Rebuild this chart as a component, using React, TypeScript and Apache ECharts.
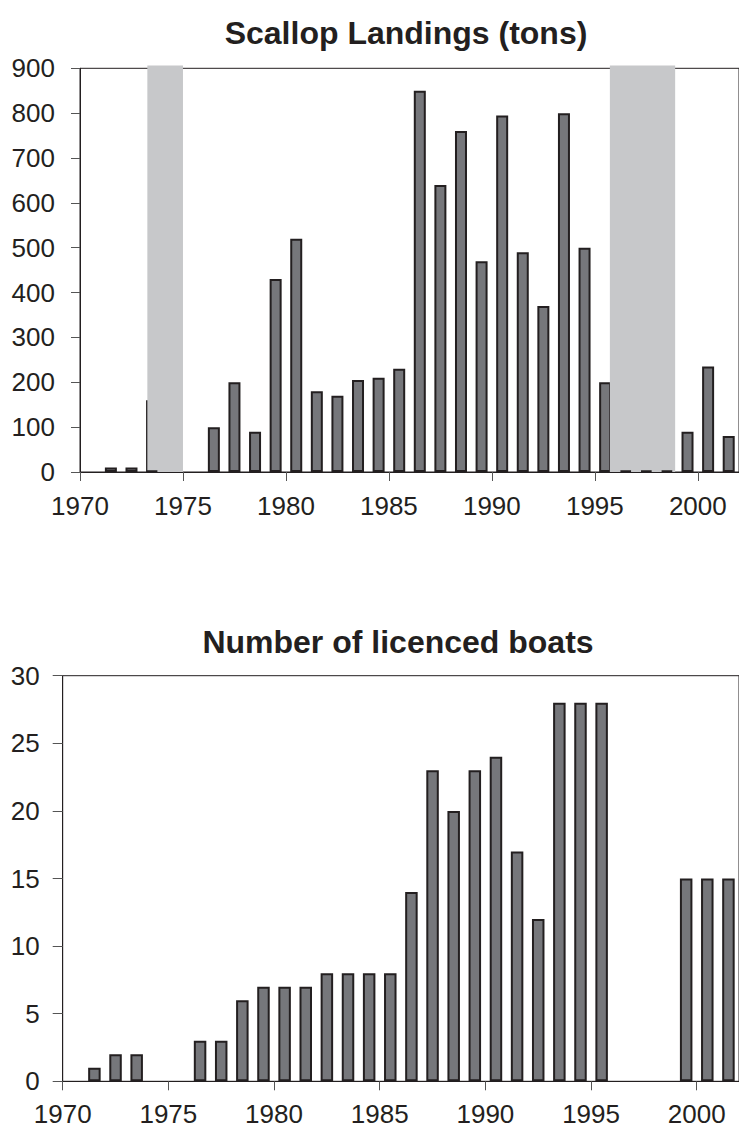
import React, { useEffect, useRef } from "react";
import * as echarts from "echarts";

// ---------- Data ----------
const landingYears = [1971, 1972, 1976, 1977, 1978, 1979, 1980, 1981, 1982, 1983, 1984, 1985, 1986, 1987, 1988, 1989, 1990, 1991, 1992, 1993, 1994, 1995, 1999, 2000, 2001];
const landingTons = [10, 10, 100, 200, 90, 430, 520, 180, 170, 205, 210, 230, 850, 640, 760, 470, 795, 490, 370, 800, 500, 200, 90, 235, 80];
const coveredYears = [1973];
const coveredTons = [160];
const smallYears = [1973, 1996, 1997, 1998];
const smallTons = [3, 3, 3, 3];
const closureStart = [1973.27, 1995.73];
const closureEnd = [1975, 1998.9];
const closureTop = 906;

const boatYears = [1971, 1972, 1973, 1976, 1977, 1978, 1979, 1980, 1981, 1982, 1983, 1984, 1985, 1986, 1987, 1988, 1989, 1990, 1991, 1992, 1993, 1994, 1995, 1999, 2000, 2001];
const boatCounts = [1, 2, 2, 3, 3, 6, 7, 7, 7, 8, 8, 8, 8, 14, 23, 20, 23, 24, 17, 12, 28, 28, 28, 15, 15, 15];

const titleTop = "Scallop Landings (tons)";
const titleBottom = "Number of licenced boats";

// ---------- Styles ----------
const FONT = "'Liberation Sans', Arial, Helvetica, sans-serif";
const INK = "#231f20";
const BAR_FILL = "#76777b";
const SHADE = "#c7c8ca";

const toPairs = (years: number[], vals: number[]) => years.map((y, i) => [y + 0.5, vals[i]]);

export default function App() {
  const ref = useRef<HTMLDivElement>(null);
  useEffect(() => {
    if (!ref.current) return;
    const chart = echarts.init(ref.current, undefined, { renderer: "svg" });

    const barStyle = { color: BAR_FILL, borderColor: INK, borderWidth: 2 };
    const xAxisBase = (gridIndex: number, labelMargin: number) => ({
      type: "value" as const,
      gridIndex,
      min: 1970,
      max: 2002,
      interval: 5,
      splitLine: { show: false },
      axisLine: { lineStyle: { color: INK, width: 1 } },
      axisTick: { show: true, length: 9, lineStyle: { color: "#555", width: 1 } },
      axisLabel: {
        show: true,
        color: INK,
        fontFamily: FONT,
        fontSize: 26,
        margin: labelMargin,
        showMaxLabel: false,
        formatter: (v: number) => String(v),
      },
    });

    chart.setOption({
      animation: false,
      backgroundColor: "#ffffff",
      grid: [
        { left: 80, top: 68.3, width: 661.3, height: 403.7, show: true, borderColor: INK, borderWidth: 1, backgroundColor: "transparent" },
        { left: 62.7, top: 675.7, width: 680.5, height: 405.6, show: true, borderColor: INK, borderWidth: 1, backgroundColor: "transparent" },
      ],
      xAxis: [xAxisBase(0, 21), xAxisBase(1, 20)],
      yAxis: [
        {
          type: "value",
          gridIndex: 0,
          min: 0,
          max: 900,
          interval: 100,
          splitLine: { show: false },
          axisLine: { show: true, lineStyle: { color: INK, width: 1 } },
          axisTick: { show: true, length: 9, lineStyle: { color: "#555", width: 1 } },
          axisLabel: { color: INK, fontFamily: FONT, fontSize: 26, margin: 25 },
        },
        {
          type: "value",
          gridIndex: 1,
          min: 0,
          max: 30,
          interval: 5,
          splitLine: { show: false },
          axisLine: { show: true, lineStyle: { color: INK, width: 1 } },
          axisTick: { show: true, length: 10, lineStyle: { color: "#555", width: 1 } },
          axisLabel: { color: INK, fontFamily: FONT, fontSize: 26, margin: 23 },
        },
      ],
      series: [
        {
          type: "bar",
          xAxisIndex: 0,
          yAxisIndex: 0,
          z: 1,
          barWidth: 12,
          barGap: "-100%",
          data: toPairs(coveredYears, coveredTons),
          itemStyle: barStyle,
        },
        {
          type: "bar",
          xAxisIndex: 0,
          yAxisIndex: 0,
          z: 2,
          barWidth: 12,
          barGap: "-100%",
          data: toPairs(landingYears, landingTons),
          itemStyle: barStyle,
        },
        {
          type: "custom",
          xAxisIndex: 0,
          yAxisIndex: 0,
          z: 3,
          clip: false,
          encode: { x: [0, 1], y: 2 },
          data: closureStart.map((s, i) => [s, closureEnd[i], closureTop]),
          renderItem: (params: any, api: any) => {
            const p0 = api.coord([api.value(0), api.value(2)]);
            const p1 = api.coord([api.value(1), 0]);
            return {
              type: "rect",
              shape: { x: p0[0], y: p0[1], width: p1[0] - p0[0], height: p1[1] - p0[1] },
              style: { fill: SHADE },
            };
          },
        },
        {
          type: "bar",
          xAxisIndex: 0,
          yAxisIndex: 0,
          z: 4,
          barWidth: 12,
          barGap: "-100%",
          data: toPairs(smallYears, smallTons),
          itemStyle: barStyle,
        },
        {
          type: "bar",
          xAxisIndex: 1,
          yAxisIndex: 1,
          z: 2,
          barWidth: 12.5,
          data: toPairs(boatYears, boatCounts),
          itemStyle: barStyle,
        },
      ],
      graphic: [
        {
          type: "text",
          x: 406,
          y: 33,
          style: { text: titleTop, fontFamily: FONT, fontWeight: "bold", fontSize: 32, fill: INK, textAlign: "center", textVerticalAlign: "middle" },
        },
        {
          type: "text",
          x: 398,
          y: 642,
          style: { text: titleBottom, fontFamily: FONT, fontWeight: "bold", fontSize: 32, fill: INK, textAlign: "center", textVerticalAlign: "middle" },
        },
      ],
    });
    return () => chart.dispose();
  }, []);

  return <div ref={ref} style={{ position: "absolute", left: 0, top: 0, width: 739, height: 1135 }} />;
}
